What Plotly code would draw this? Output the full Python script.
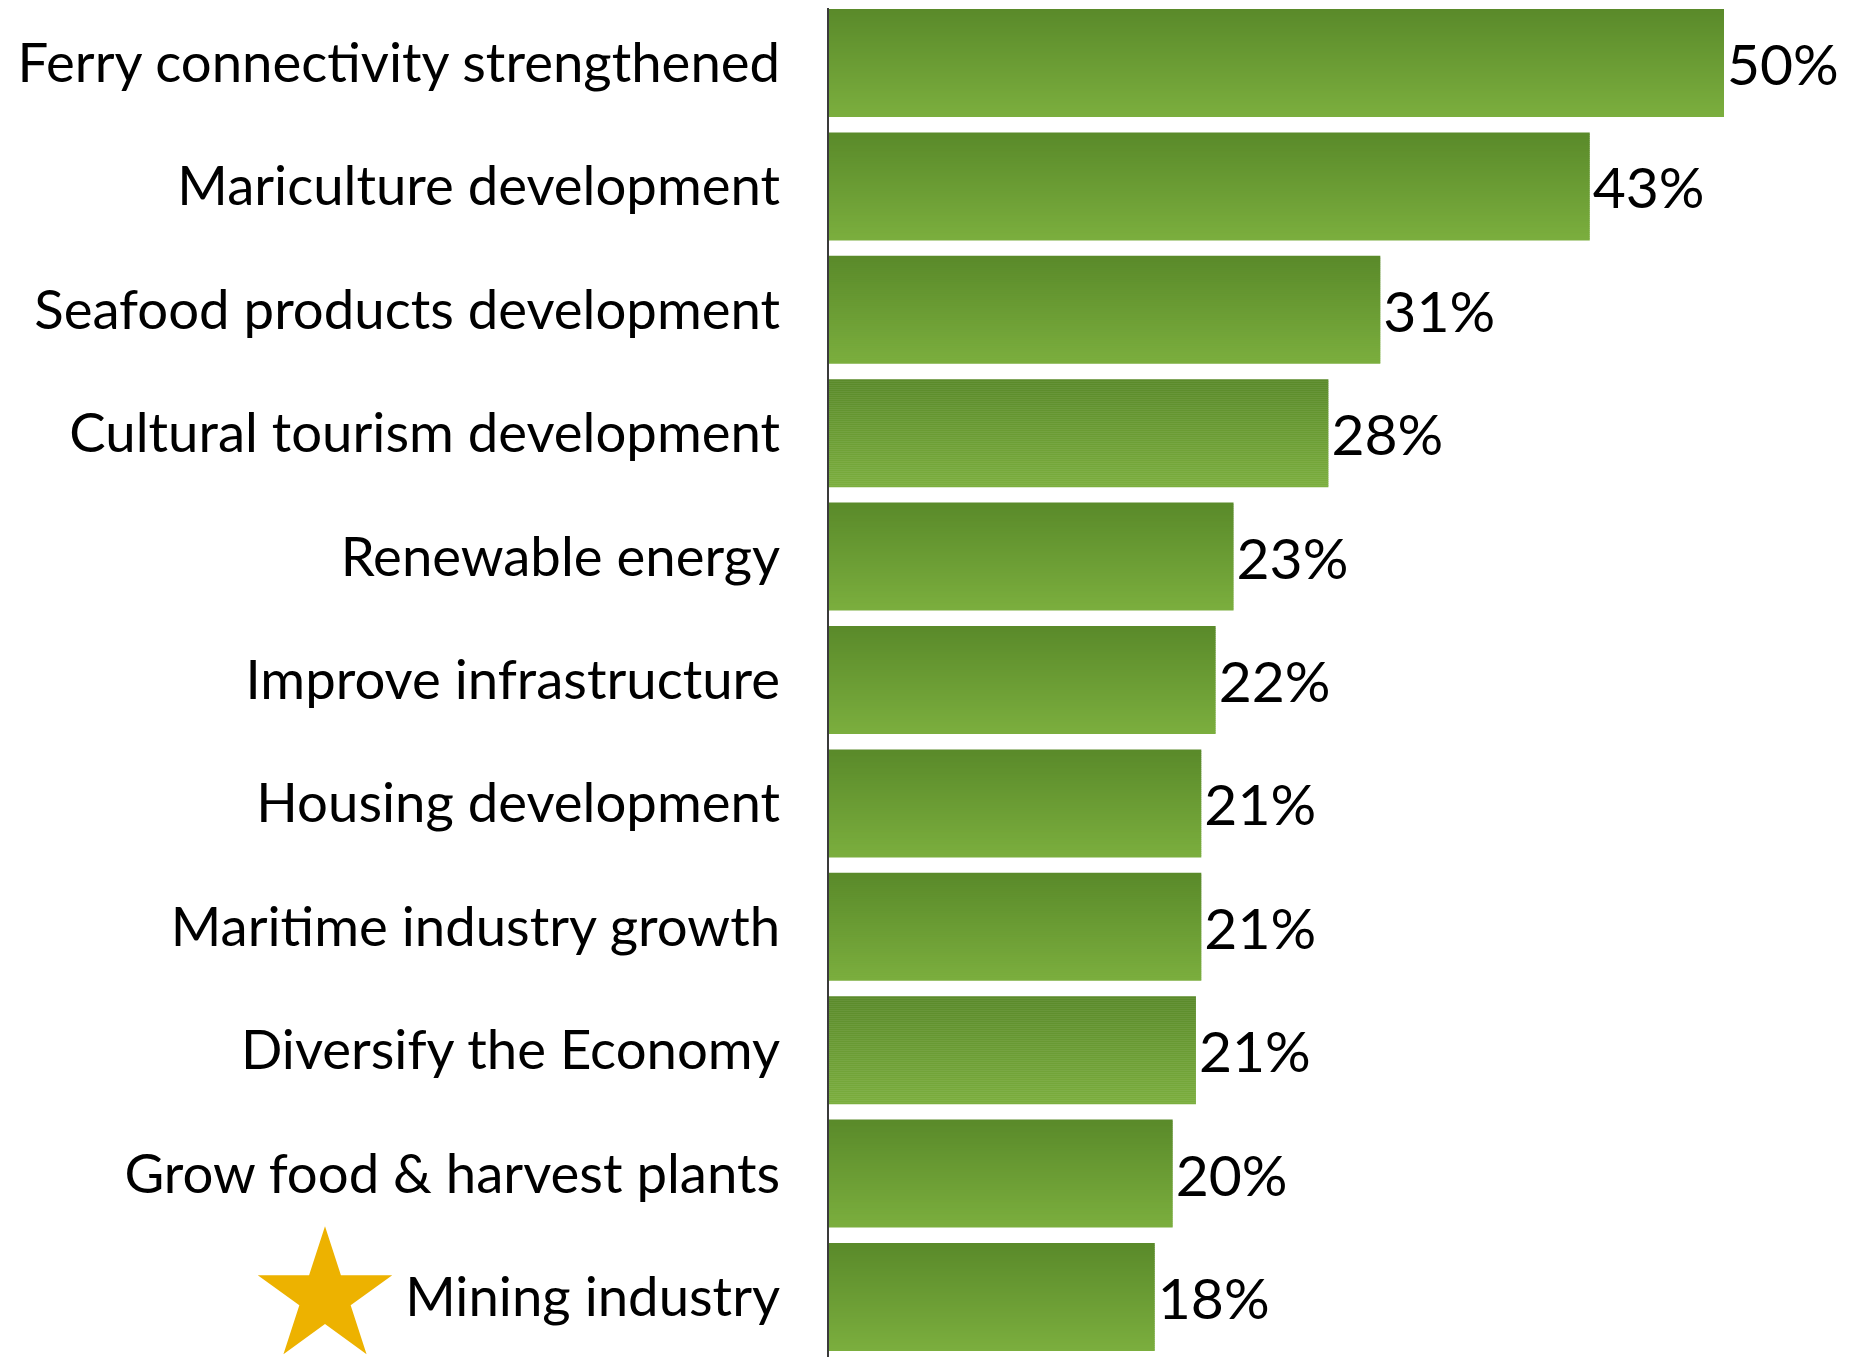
import plotly.graph_objects as go

categories = [
    "Ferry connectivity strengthened",
    "Mariculture development",
    "Seafood products development",
    "Cultural tourism development",
    "Renewable energy",
    "Improve infrastructure",
    "Housing development",
    "Maritime industry growth",
    "Diversify the Economy",
    "Grow food & harvest plants",
    "Mining industry",
]
values = [50.0, 42.5, 30.8, 27.9, 22.6, 21.6, 20.8, 20.8, 20.5, 19.2, 18.2]
value_labels = ["50%", "43%", "31%", "28%", "23%", "22%", "21%", "21%", "21%", "20%", "18%"]
starred = ["Mining industry"]

W, H = 1867, 1357
AXIS_PX = 821          # page has an 8px body margin
PX_PER_PCT = 17.9
FONT = "Lato"
FS = 54.5
FS_VAL = 57

top_rgb = (0x5A, 0x8A, 0x2A)
bot_rgb = (0x7B, 0xAE, 0x3E)
band = 0.875
N = 54

fig = go.Figure()
step = band / N
for k in range(N):
    t = k / (N - 1)
    c = tuple(round(a + (b - a) * t) for a, b in zip(top_rgb, bot_rgb))
    w = step * 1.3 if k < N - 1 else step
    fig.add_trace(go.Bar(
        x=values, y=categories, orientation="h",
        offset=-band / 2 + k * step, width=w,
        marker=dict(color="rgb(%d,%d,%d)" % c, line=dict(width=0)),
        hoverinfo="skip", showlegend=False,
    ))

fig.add_trace(go.Bar(
    x=values, y=categories, orientation="h",
    offset=-band / 2, width=band,
    marker=dict(color="rgba(0,0,0,0)", line=dict(width=0)),
    text=value_labels, textposition="outside", constraintext="none",
    textfont=dict(family=FONT, size=FS_VAL, color="black"),
    cliponaxis=False, showlegend=False,
))

# star decoration beside the highlighted category
fig.add_trace(go.Scatter(
    x=[317] * len(starred), y=starred, xaxis="x2", yaxis="y",
    mode="markers",
    marker=dict(symbol="star", size=101, color="#EDB200", line=dict(width=0)),
    cliponaxis=False, showlegend=False, hoverinfo="skip",
))

n = len(categories)
spacing = 123.4
y_top = -55 / spacing
y_bot = (n - 1) + (H - (55 + (n - 1) * spacing)) / spacing
fig.update_layout(
    width=W, height=H,
    margin=dict(l=0, r=0, t=0, b=0, autoexpand=False),
    barmode="overlay",
    plot_bgcolor="white", paper_bgcolor="white",
    xaxis=dict(domain=[AXIS_PX / W, 1], range=[0, (W - AXIS_PX) / PX_PER_PCT],
               visible=False, showgrid=False, zeroline=False, automargin=False),
    xaxis2=dict(domain=[0, AXIS_PX / W], range=[0, AXIS_PX], anchor="y",
                visible=False, showgrid=False, zeroline=False, automargin=False),
    yaxis=dict(categoryorder="array", categoryarray=categories,
               range=[y_bot, y_top], showgrid=False, zeroline=False,
               showline=True, linecolor="#3a3a3a", linewidth=2,
               ticks="", ticklabelstandoff=36, automargin=False,
               tickfont=dict(family=FONT, size=FS, color="black")),
)

fig.write_html("out.html")
